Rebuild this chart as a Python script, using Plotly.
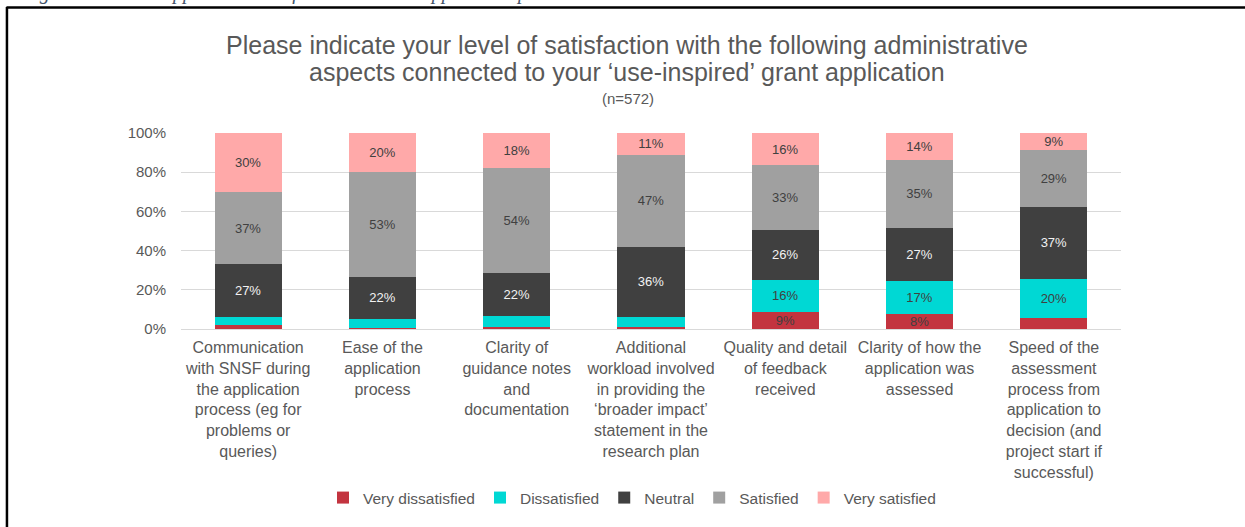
import plotly.graph_objects as go

categories = [
    "Communication<br>with SNSF during<br>the application<br>process (eg for<br>problems or<br>queries)",
    "Ease of the<br>application<br>process",
    "Clarity of<br>guidance notes<br>and<br>documentation",
    "Additional<br>workload involved<br>in providing the<br>‘broader impact’<br>statement in the<br>research plan",
    "Quality and detail<br>of feedback<br>received",
    "Clarity of how the<br>application was<br>assessed",
    "Speed of the<br>assessment<br>process from<br>application to<br>decision (and<br>project start if<br>successful)",
]

very_dissatisfied = [2, 0.5, 0.8, 0.8, 8.7, 7.8, 5.8]
dissatisfied = [4, 4.7, 5.8, 5.2, 16.3, 16.8, 19.8]
neutral = [27, 21.5, 21.8, 36, 25.6, 27, 36.8]
satisfied = [37, 53.3, 53.6, 47, 33, 34.6, 29]
very_satisfied = [30, 20, 18, 11, 16.4, 13.8, 8.6]

series_names = ["Very dissatisfied", "Dissatisfied", "Neutral", "Satisfied", "Very satisfied"]
series_values = [very_dissatisfied, dissatisfied, neutral, satisfied, very_satisfied]
series_colors = ["#C3343F", "#00D8D4", "#404040", "#A0A0A0", "#FFA9A9"]
label_colors = ["#404040", "#404040", "#F2F2F2", "#404040", "#404040"]

y_tickvals = [0, 20, 40, 60, 80, 100]
y_ticktext = ["0%", "20%", "40%", "60%", "80%", "100%"]

title_lines = [
    "Please indicate your level of satisfaction with the following administrative",
    "aspects connected to your ‘use-inspired’ grant application",
]
subtitle = "(n=572)"
caption = "Figure 12: UIBR applicants’ satisfaction with the application process"

FONT = "Liberation Sans, Arial, sans-serif"

fig = go.Figure()
for name, vals, col, lcol in zip(series_names, series_values, series_colors, label_colors):
    txt = [f"{v:.0f}%" if v >= 7 else "" for v in vals]
    fig.add_trace(go.Bar(
        name=name, x=categories, y=vals, marker=dict(color=col, line=dict(width=0)),
        text=txt, texttemplate="%{text}", textposition="inside", insidetextanchor="middle",
        textangle=0, constraintext="none",
        textfont=dict(family=FONT, size=13, color=lcol),
        hoverinfo="skip",
    ))

# pixel helpers for paper coords
L, R, T, B = 181.4, 1120.6, 133, 329
def px(x):
    return (x - L) / (R - L)
def py(y):
    return (B - y) / (B - T)

annotations = [
    dict(text=title_lines[0], xref="paper", yref="paper", x=px(627), y=py(45), xanchor="center",
         yanchor="middle", showarrow=False, font=dict(family=FONT, size=25, color="#595959")),
    dict(text=title_lines[1], xref="paper", yref="paper", x=px(627), y=py(72), xanchor="center",
         yanchor="middle", showarrow=False, font=dict(family=FONT, size=25, color="#595959")),
    dict(text=subtitle, xref="paper", yref="paper", x=px(628), y=py(99), xanchor="center",
         yanchor="middle", showarrow=False, font=dict(family=FONT, size=15, color="#595959")),
    dict(text=f"<i>{caption}</i>", xref="paper", yref="paper", x=px(20), y=py(6), xanchor="left",
         yanchor="bottom", showarrow=False,
         font=dict(family="Liberation Serif, serif", size=20, color="#44546A")),
]

fig.update_layout(
    width=1245, height=527,
    margin=dict(l=L, r=1245 - R, t=T, b=527 - B, pad=0),
    barmode="stack", bargap=0.5,
    paper_bgcolor="white", plot_bgcolor="white",
    font=dict(family=FONT, color="#595959"),
    showlegend=True,
    legend=dict(orientation="h", x=px(632), xanchor="center", y=py(498), yanchor="middle",
                font=dict(family=FONT, size=15.5, color="#595959"), itemwidth=30,
                traceorder="normal", itemclick=False, itemdoubleclick=False),
    xaxis=dict(tickfont=dict(family=FONT, size=16, color="#595959"), showline=False,
               ticks="", tickangle=0, showgrid=False, fixedrange=True, ticklabelstandoff=7),
    yaxis=dict(range=[0, 100], tickvals=y_tickvals, ticktext=y_ticktext,
               tickfont=dict(family=FONT, size=15, color="#595959"),
               showgrid=True, gridcolor="#D9D9D9", gridwidth=1, zeroline=True,
               zerolinecolor="#D9D9D9", zerolinewidth=1, ticks="", ticklabelstandoff=14,
               fixedrange=True),
    annotations=annotations,
    shapes=[
        dict(type="line", xref="paper", yref="paper", x0=px(7), x1=px(1250), y0=py(7.5), y1=py(7.5),
             line=dict(color="black", width=2.5)),
        dict(type="line", xref="paper", yref="paper", x0=px(7.5), x1=px(7.5), y0=py(7), y1=py(535),
             line=dict(color="black", width=2.5)),
    ],
)

fig.write_html("out.html", config={"displayModeBar": False, "staticPlot": True},
               post_script="document.body.style.margin='0';document.body.style.padding='0';")
